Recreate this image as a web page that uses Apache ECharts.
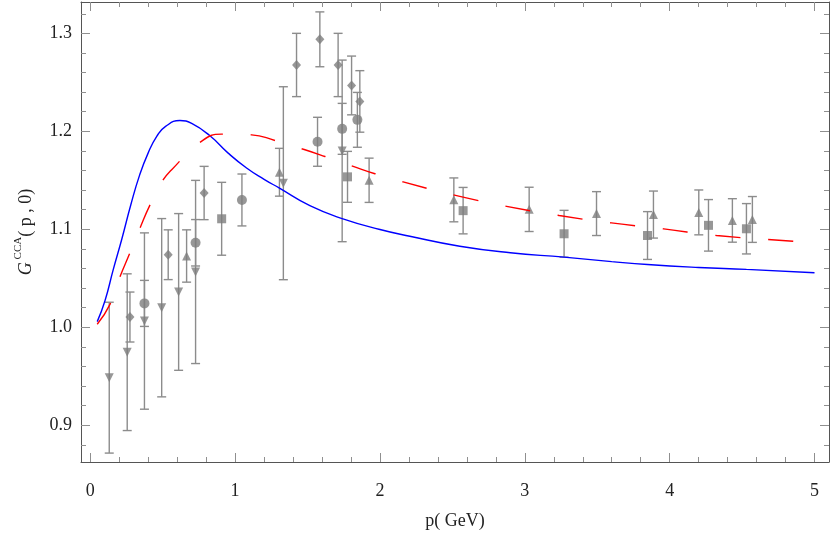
<!DOCTYPE html>
<html><head><meta charset="utf-8">
<script src="https://cdn.jsdelivr.net/npm/echarts@6/dist/echarts.min.js"></script>
<style>html,body{margin:0;padding:0;background:#fff}#c{width:830px;height:535px}</style>
</head><body><div id="c"></div>
<script>
// ---- data ----
const circleX = [0.374, 0.727, 1.047, 1.569, 1.739, 1.844];
const circleY = [1.0243, 1.0862, 1.1299, 1.1893, 1.2025, 1.2117];
const circleErr = [0.0235, 0.0237, 0.0265, 0.025, 0.026, 0.028];

const downX = [0.131, 0.255, 0.374, 0.493, 0.610, 0.727, 1.333, 1.739];
const downY = [0.9485, 0.9745, 1.0063, 1.0199, 1.036, 1.0564, 1.147, 1.180];
const downErr = [0.077, 0.080, 0.090, 0.091, 0.080, 0.0935, 0.0985, 0.0927];

const diamondX = [0.274, 0.538, 0.786, 1.424, 1.585, 1.711, 1.804, 1.861];
const diamondY = [1.0104, 1.074, 1.137, 1.2677, 1.2939, 1.2677, 1.2468, 1.2305];
const diamondErr = [0.0255, 0.0254, 0.0272, 0.0323, 0.028, 0.0323, 0.030, 0.0314];

const upX = [0.665, 1.306, 1.925, 2.510, 3.030, 3.495, 3.888, 4.201, 4.433, 4.571];
const upY = [1.0727, 1.1582, 1.150, 1.130, 1.1203, 1.116, 1.115, 1.1172, 1.109, 1.110];
const upErr = [0.0267, 0.0244, 0.0226, 0.0224, 0.0226, 0.0224, 0.024, 0.0229, 0.0222, 0.0234];

const squareX = [0.907, 1.776, 2.574, 3.271, 3.847, 4.268, 4.530];
const squareY = [1.1107, 1.1535, 1.119, 1.0954, 1.0936, 1.104, 1.1005];
const squareErr = [0.0372, 0.026, 0.0237, 0.0239, 0.0244, 0.0263, 0.0257];

const blueX = [0.048, 0.101, 0.159, 0.217, 0.28, 0.34, 0.40, 0.46, 0.52, 0.619, 0.70, 0.826, 0.95, 1.079, 1.20, 1.306, 1.516, 1.739, 2.0, 2.206, 2.551, 2.9, 3.271, 3.6, 3.847, 4.2, 4.530, 5.0];
const blueY = [1.0057, 1.0267, 1.059, 1.0895, 1.125, 1.155, 1.178, 1.195, 1.205, 1.211, 1.208, 1.1954, 1.178, 1.1625, 1.151, 1.142, 1.1241, 1.1109, 1.0998, 1.0929, 1.0827, 1.076, 1.0715, 1.067, 1.064, 1.061, 1.059, 1.0556];

const redX = [0.048, 0.136, 0.205, 0.269, 0.34, 0.413, 0.504, 0.562, 0.757, 0.907, 1.114, 1.275, 1.466, 1.620, 1.815, 1.965, 2.160, 2.551, 2.874, 3.237, 3.598, 3.959, 4.323, 4.852, 5.0];
const redY = [1.003, 1.0233, 1.0515, 1.0742, 1.10, 1.125, 1.1506, 1.1608, 1.1886, 1.1971, 1.1964, 1.1906, 1.1819, 1.1743, 1.1642, 1.1567, 1.1483, 1.1336, 1.1234, 1.114, 1.1065, 1.1004, 1.0936, 1.0878, 1.086];

const xMajor = [0, 1, 2, 3, 4, 5];
const yMajor = [0.9, 1.0, 1.1, 1.2, 1.3];
const yLabels = ['0.9', '1.0', '1.1', '1.2', '1.3'];
const xMin = -0.064, xMax = 5.10, yMin = 0.8624, yMax = 1.332;

// minor tick positions
const xMinor = [];
for (let i = 1; i < 25; i++) { if (i % 5) xMinor.push(+(i * 0.2).toFixed(2)); }
const yMinor = [];
for (let i = 44; i <= 66; i++) { if (i % 5) yMinor.push(+(i * 0.02).toFixed(2)); }

const FONT = '"Liberation Serif", "DejaVu Serif", serif';
const frameColor = '#555';
const tickColor = '#8f8f8f';
const markColor = '#7d7d7d';
const barColor = '#8c8c8c';

function zip3(a, b, c) { return a.map((v, i) => [v, b[i], c[i]]); }
function zip2(a, b) { return a.map((v, i) => [v, b[i]]); }

function mkX(pos, vals, len, labels, showLine) {
  return {
    type: 'value', min: xMin, max: xMax, position: pos,
    axisLine: { show: showLine, onZero: false, lineStyle: { color: frameColor, width: 1 } },
    axisTick: { show: true, inside: true, length: len, customValues: vals, lineStyle: { color: tickColor, width: 1 } },
    axisLabel: labels ? { show: true, customValues: vals, margin: 20, color: '#222', fontFamily: FONT, fontSize: 18, formatter: v => String(Math.round(v)) } : { show: false },
    splitLine: { show: false }
  };
}
function mkY(pos, vals, len, labels, showLine) {
  return {
    type: 'value', min: yMin, max: yMax, position: pos,
    axisLine: { show: showLine, onZero: false, lineStyle: { color: frameColor, width: 1 } },
    axisTick: { show: true, inside: true, length: len, customValues: vals, lineStyle: { color: tickColor, width: 1 } },
    axisLabel: labels ? { show: true, customValues: vals, margin: 9, color: '#222', fontFamily: FONT, fontSize: 18,
      formatter: v => { const i = yMajor.findIndex(m => Math.abs(m - v) < 1e-6); return i >= 0 ? yLabels[i] : ''; } } : { show: false },
    splitLine: { show: false }
  };
}

const xAxes = [
  Object.assign(mkX('bottom', xMajor, 9, true, true), {
    name: 'p( GeV)', nameLocation: 'middle', nameGap: 50,
    nameTextStyle: { fontFamily: FONT, fontSize: 18, color: '#222' }
  }),
  mkX('bottom', xMinor, 5, false, false),
  mkX('top', xMajor, 9, false, true),
  mkX('top', xMinor, 5, false, false)
];
const yAxes = [
  Object.assign(mkY('left', yMajor, 9, true, true), {
    name: '{g|G}{s| CCA}{n|( p , 0)}', nameLocation: 'middle', nameGap: 46, nameRotate: 90,
    nameTextStyle: {
      fontFamily: FONT, fontSize: 18, color: '#222',
      rich: {
        g: { fontFamily: FONT, fontSize: 18, fontStyle: 'italic', color: '#222', lineHeight: 22, verticalAlign: 'bottom' },
        s: { fontFamily: FONT, fontSize: 11, color: '#222', lineHeight: 12, verticalAlign: 'top' },
        n: { fontFamily: FONT, fontSize: 18, color: '#222', lineHeight: 22, verticalAlign: 'bottom' }
      }
    }
  }),
  mkY('left', yMinor, 5, false, false),
  mkY('right', yMajor, 9, false, true),
  mkY('right', yMinor, 5, false, false)
];

function errSeries(data) {
  return {
    type: 'custom', xAxisIndex: 0, yAxisIndex: 0, z: 3, clip: true,
    data: data, encode: { x: 0, y: 1 },
    renderItem: function (params, api) {
      const x = api.value(0), y = api.value(1), e = api.value(2);
      const t = api.coord([x, y + e]), b = api.coord([x, y - e]);
      const w = 4.5;
      const st = { stroke: barColor, lineWidth: 1.4 };
      return {
        type: 'group', children: [
          { type: 'line', shape: { x1: t[0], y1: t[1], x2: b[0], y2: b[1] }, style: st },
          { type: 'line', shape: { x1: t[0] - w, y1: t[1], x2: t[0] + w, y2: t[1] }, style: st },
          { type: 'line', shape: { x1: b[0] - w, y1: b[1], x2: b[0] + w, y2: b[1] }, style: st }
        ]
      };
    }
  };
}
function markSeries(x, y, symbol, size, rotate) {
  return {
    type: 'scatter', xAxisIndex: 0, yAxisIndex: 0, z: 4,
    data: zip2(x, y), symbol: symbol, symbolSize: size, symbolRotate: rotate || 0,
    itemStyle: { color: markColor }, silent: true
  };
}

const chart = echarts.init(document.getElementById('c'), null, { renderer: 'canvas' });
chart.setOption({
  animation: false,
  backgroundColor: '#fff',
  grid: { left: 81, right: 1, top: 2, bottom: 72, containLabel: false },
  xAxis: xAxes,
  yAxis: yAxes,
  series: [
    errSeries(zip3(circleX, circleY, circleErr)),
    errSeries(zip3(downX, downY, downErr)),
    errSeries(zip3(diamondX, diamondY, diamondErr)),
    errSeries(zip3(upX, upY, upErr)),
    errSeries(zip3(squareX, squareY, squareErr)),
    markSeries(circleX, circleY, 'circle', 10),
    markSeries(downX, downY, 'triangle', 9, 180),
    markSeries(diamondX, diamondY, 'diamond', [9, 10]),
    markSeries(upX, upY, 'triangle', 9),
    markSeries(squareX, squareY, 'rect', 9),
    {
      type: 'line', xAxisIndex: 0, yAxisIndex: 0, z: 5, data: zip2(blueX, blueY),
      smooth: 0.5, showSymbol: false, symbol: 'none',
      lineStyle: { color: '#0000ff', width: 1.4 }
    },
    {
      type: 'line', xAxisIndex: 0, yAxisIndex: 0, z: 5, data: zip2(redX, redY),
      smooth: 0.5, showSymbol: false, symbol: 'none',
      lineStyle: { color: '#ff0000', width: 1.4, type: [25, 28] }
    }
  ]
});
</script>
</body></html>
